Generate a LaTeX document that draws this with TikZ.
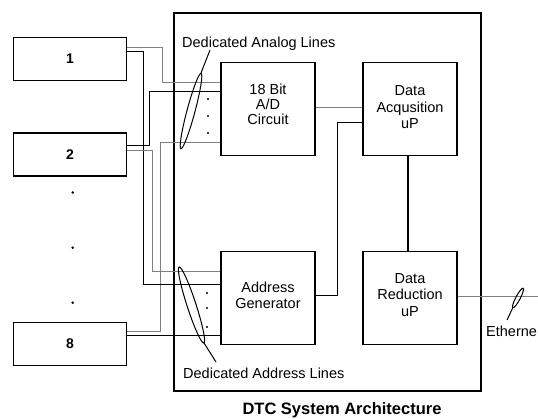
\documentclass[tikz,border=0pt]{standalone}
\usepackage{fontspec}
\setmainfont{Liberation Sans}
\begin{document}
\begin{tikzpicture}[x=1pt,y=-1pt,
  blk/.style={draw,line width=1.8pt,inner sep=0pt,minimum width=113pt,minimum height=43pt,font=\fontsize{14}{16}\selectfont\bfseries},
  unit/.style={draw,line width=1.6pt,inner sep=0pt,minimum width=94pt,minimum height=93pt,align=center,font=\fontsize{14.5}{16.5}\selectfont},
  gw/.style={draw=black!50,line width=0.8pt},
  bw/.style={draw=black,line width=1pt},
  lbl/.style={font=\fontsize{14.5}{16}\selectfont,inner sep=0pt,anchor=base west},
]
\useasboundingbox (0,0) rectangle (538,419);

% sensor boxes
\node[blk] (b1) at (70,59) {1};
\node[blk] (b2) at (70,154.5) {2};
\node[blk] (b8) at (70,344) {8};
\fill (72.7,192.5) circle (1.4pt) (72.7,247.7) circle (1.4pt) (72.7,302.7) circle (1.4pt);

% DTC frame
\node[draw,line width=2.6pt,inner sep=0pt,minimum width=307pt,minimum height=378pt] (dtc) at (327.5,202) {};

% units
\node[unit,font=\fontsize{14.5}{15}\selectfont] (ad) at (268,109) {18 Bit\\A/D\\Circuit\rule[-10pt]{0pt}{10pt}};
\node[unit] (acq) at (410,109) {Data\\Acqusition\\uP\rule[-3pt]{0pt}{3pt}};
\node[unit] (addr) at (268,298) {Address\\Generator\rule[-6pt]{0pt}{6pt}};
\node[unit] (red) at (410,298) {Data\\Reduction\\uP\rule[-6pt]{0pt}{6pt}};

% analog lines
\draw[gw] ([yshift=12pt]b1.east) -| ([xshift=-58pt,yshift=27pt]ad.west) -- ([yshift=27pt]ad.west);
\draw[bw] ([yshift=8.5pt]b2.east) -| ([xshift=-71pt,yshift=17pt]ad.west) -- ([yshift=17pt]ad.west);
\draw[gw] ([yshift=13pt]b8.east) -| ([xshift=-60pt,yshift=-33pt]ad.west) -- ([yshift=-33pt]ad.west);
% address lines
\draw[bw] ([yshift=7pt]b1.east) -| ([xshift=-77pt,yshift=13pt]addr.west) -- ([yshift=13pt]addr.west);
\draw[gw] ([yshift=4.5pt]b2.east) -| ([xshift=-68pt,yshift=27pt]addr.west) -- ([yshift=27pt]addr.west);
\draw[bw] ([yshift=8pt]b8.east) -- ([yshift=-38pt]addr.west);

% dots near inputs
\fill (208,99) circle (1.2pt) (208,116) circle (1.2pt) (208,133) circle (1.2pt);
\fill (207,293) circle (1.2pt) (207,308) circle (1.2pt) (207,327) circle (1.2pt);

% bundles
\draw[bw,rotate around={75:(191,111)}] (191,111) ellipse [x radius=39pt,y radius=4pt];
\coordinate (aend) at (201,73);
\coordinate (alead) at (210,50);
\draw[bw] (aend) -- (alead);
\node[lbl] (alab) at (182,48) {Dedicated Analog Lines};

\draw[bw,rotate around={-72:(191.5,305)}] (191.5,305) ellipse [x radius=40pt,y radius=4.5pt];
\coordinate (dend) at (204,343);
\coordinate (dlead) at (216,362);
\draw[bw] (dend) -- (dlead);
\node[lbl] (dlab) at (183,378) {Dedicated Address Lines};

% internal connections
\draw[gw] ([yshift=2pt]ad.east) -- ([yshift=2pt]acq.west);
\draw[bw] ([yshift=2pt]addr.east) -| ([xshift=-25pt,yshift=-14pt]acq.west) -- ([yshift=-14pt]acq.west);
\draw[draw=black,line width=1.3pt] ([xshift=-2pt]acq.south) -- ([xshift=-2pt]red.north);

% ethernet
\coordinate (eth) at (538,296);
\draw[gw] ([yshift=2pt]red.east) -- (eth);
\draw[bw,rotate around={62:(518,298)}] (518,298) ellipse [x radius=11pt,y radius=2.2pt];
\coordinate (eend) at (512.8,307.7);
\coordinate (elead) at (507,320);
\draw[bw] (eend) -- (elead);
\node[lbl] (elab) at (486,337) {Etherne};

% title
\node[font=\fontsize{16.5}{18}\selectfont\bfseries,inner sep=0pt,anchor=base] (title) at (342,414.5) {DTC System Architecture};
\end{tikzpicture}
\end{document}
